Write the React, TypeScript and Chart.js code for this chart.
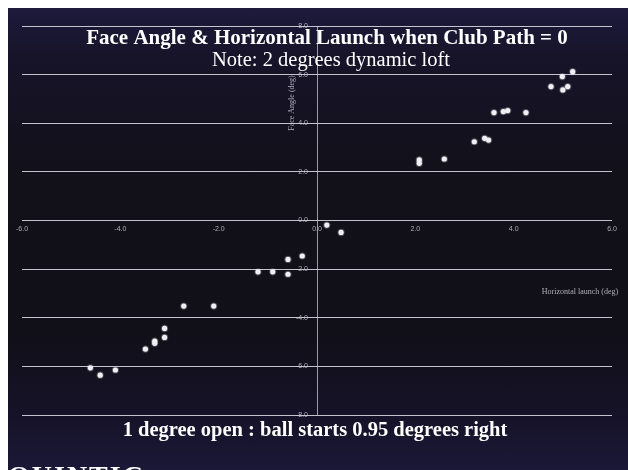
import React, { useEffect, useRef } from "react";
import { Chart, registerables } from "chart.js";

Chart.register(...registerables);

const horizontalLaunch = [5.2, 4.99, 4.76, 5.1, 5.0, 3.6, 3.79, 3.88, 4.25, 3.2, 3.41, 3.49, 2.08, 2.08, 2.59, 0.2, 0.49, -0.3, -0.59, -0.59, -0.9, -1.2, -2.1, -2.71, -3.1, -3.1, -3.3, -3.3, -3.49, -4.1, -4.41, -4.61];
const faceAngle = [6.12, 5.92, 5.51, 5.51, 5.37, 4.44, 4.48, 4.52, 4.44, 3.24, 3.38, 3.31, 2.49, 2.35, 2.53, -0.19, -0.49, -1.46, -1.6, -2.21, -2.11, -2.11, -3.52, -3.52, -4.44, -4.81, -4.96, -5.05, -5.29, -6.15, -6.36, -6.06];

const xTickValues = [-6, -4, -2, 0, 2, 4, 6];
const yTickValues = [8, 6, 4, 2, 0, -2, -4, -6, -8];

const titleText = "Face Angle & Horizontal Launch when Club Path = 0";
const subtitleText = "Note: 2 degrees dynamic loft";
const footerText = "1 degree open : ball starts 0.95 degrees right";
const xAxisTitle = "Horizontal launch (deg)";
const yAxisTitle = "Face Angle (deg)";

const textPlugin = {
  id: "slideText",
  afterDraw(chart: any) {
    const ctx = chart.ctx;
    const xs = chart.scales.x;
    const ys = chart.scales.y;
    const x0 = xs.getPixelForValue(0);
    const y0 = ys.getPixelForValue(0);
    ctx.save();
    // tick labels
    ctx.fillStyle = "rgba(210,210,220,0.8)";
    ctx.font = '7px "Liberation Sans"';
    ctx.textAlign = "center";
    ctx.textBaseline = "middle";
    xTickValues.forEach((v) => {
      ctx.fillText(v.toFixed(1), xs.getPixelForValue(v), y0 + 9);
    });
    ctx.textAlign = "right";
    yTickValues.forEach((v) => {
      ctx.fillText(v.toFixed(1), x0 - 9, ys.getPixelForValue(v));
    });
    // axis titles
    ctx.font = '8px "Liberation Serif"';
    ctx.textAlign = "center";
    ctx.fillText(xAxisTitle, 572, 284);
    ctx.save();
    ctx.translate(x0 - 25, 95);
    ctx.rotate(-Math.PI / 2);
    ctx.fillText(yAxisTitle, 0, 0);
    ctx.restore();
    // titles
    ctx.fillStyle = "#ffffff";
    ctx.textAlign = "center";
    ctx.font = 'bold 21px "Liberation Serif"';
    ctx.fillText(titleText, 319, 31);
    ctx.font = '20.5px "Liberation Serif"';
    ctx.fillText(subtitleText, 323, 53);
    ctx.font = 'bold 20.5px "Liberation Serif"';
    ctx.fillText(footerText, 307, 423);
    ctx.restore();
  },
};

export default function App() {
  const ref = useRef<HTMLCanvasElement>(null);
  useEffect(() => {
    if (!ref.current) return;
    const chart = new Chart(ref.current, {
      type: "scatter",
      data: {
        datasets: [
          {
            label: "Face Angle",
            data: horizontalLaunch.map((x, i) => ({ x, y: faceAngle[i] })),
            pointRadius: 2.6,
            pointBackgroundColor: "#eeeef4",
            pointBorderColor: "rgba(255,255,255,0.25)",
            pointBorderWidth: 2,
          },
        ],
      },
      options: {
        animation: false,
        responsive: false,
        maintainAspectRatio: false,
        layout: { padding: { left: 14, right: 16, top: 18, bottom: 55 } },
        plugins: { legend: { display: false }, tooltip: { enabled: false }, title: { display: false } },
        scales: {
          x: {
            type: "linear",
            min: -6,
            max: 6,
            ticks: { display: false, stepSize: 2 },
            grid: {
              drawTicks: false,
              color: (c: any) => (c.tick && c.tick.value === 0 ? "rgba(200,200,210,0.75)" : "transparent"),
              lineWidth: 1,
            },
            border: { display: false },
          },
          y: {
            type: "linear",
            min: -8,
            max: 8,
            ticks: { display: false, stepSize: 2 },
            grid: { drawTicks: false, color: "rgba(215,215,225,0.9)", lineWidth: 1 },
            border: { display: false },
          },
        },
      },
      plugins: [textPlugin],
    });
    return () => chart.destroy();
  }, []);
  return (
    <div
      style={{
        position: "absolute",
        left: 8,
        top: 8,
        width: 620,
        height: 462,
        overflow: "hidden",
        background:
          "linear-gradient(180deg, #1d1a3c 0%, #17142a 10%, #121019 35%, #110f17 70%, #16132a 90%, #1b1838 100%)",
      }}
    >
      <canvas ref={ref} width={620} height={462} style={{ position: "absolute", left: 0, top: 0 }} />
      <div
        style={{
          position: "absolute",
          left: 0,
          top: 454,
          color: "#ffffff",
          fontFamily: '"Liberation Serif"',
          fontWeight: "bold",
          fontSize: 28,
          letterSpacing: 2,
          lineHeight: "28px",
        }}
      >
        QUINTIC
      </div>
    </div>
  );
}
